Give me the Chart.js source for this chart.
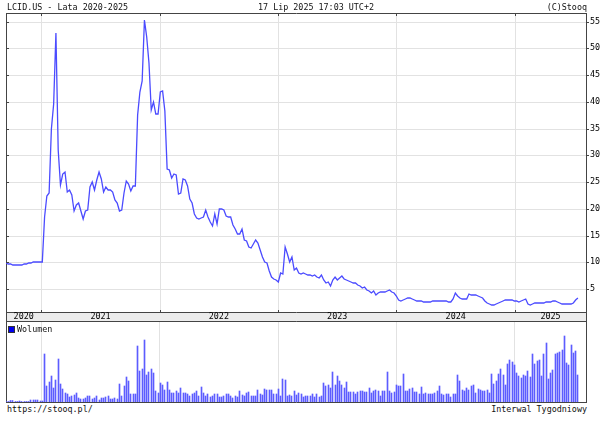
<!DOCTYPE html>
<html>
<head>
<meta charset="utf-8">
<script src="https://cdn.jsdelivr.net/npm/chart.js@4.4.1/dist/chart.umd.min.js"></script>
<style>
  body { margin: 0; background: #fff; }
  #wrap { position: relative; width: 605px; height: 425px; font-family: "DejaVu Sans Mono", monospace; font-size: 8.4px; color: #111; }
  #wrap canvas { position: absolute; left: 0; }
  .t { position: absolute; white-space: pre; line-height: 10px; }
  .sq { display: inline-block; width: 5px; height: 5px; background: #0000ee; border: 1px solid #333; margin-right: 2px; vertical-align: -1px; }
</style>
</head>
<body>
<div id="wrap">
  <canvas id="price" width="605" height="322" style="top:0"></canvas>
  <canvas id="vol" width="605" height="81" style="top:322px"></canvas>
  <div class="t" style="left:7px;top:2px">LCID.US - Lata 2020-2025</div>
  <div class="t" style="left:258px;top:2px">17 Lip 2025 17:03 UTC+2</div>
  <div class="t" style="right:18px;top:2px">(C)Stooq</div>
  <div class="t" style="left:8px;top:324px"><span class="sq"></span>Wolumen</div>
  <div class="t" style="left:7px;top:404px">https://stooq.pl/</div>
  <div class="t" style="right:18px;top:404px">Interwal Tygodniowy</div>
</div>
<script>
// weekly data, first week starts 2020-09-14
var firstWeek = Date.UTC(2020, 8, 14);
var xMin = firstWeek, xMax = Date.UTC(2025, 7, 8);
var yearLabels = ['2020', '2021', '2022', '2023', '2024', '2025'];
var priceTicks = [5, 10, 15, 20, 25, 30, 35, 40, 45, 50, 55];

var close = [
  9.8, 9.7, 9.6, 9.5, 9.5, 9.4, 9.5, 9.5, 9.6, 9.7,
  9.8, 9.9, 10.0, 10.0, 10.0, 10.0, 10.0, 18.5, 22.3, 23.0,
  35.0, 39.5, 52.9, 31.0, 24.4, 26.5, 26.9, 23.2, 23.5, 22.5,
  19.6, 20.7, 21.1, 19.5, 18.1, 19.6, 19.8, 24.1, 25.0, 23.5,
  25.3, 26.9, 25.6, 23.2, 24.1, 23.6, 23.5, 23.2, 21.6, 21.1,
  19.5, 19.8, 22.9, 25.2, 24.6, 23.4, 24.2, 24.2, 37.5, 41.9,
  43.8, 55.3, 52.2, 47.2, 38.5, 39.9, 37.7, 37.8, 41.9, 42.0,
  38.2, 27.5, 27.3, 25.8, 26.5, 26.3, 22.7, 22.9, 25.6, 25.3,
  24.3, 21.8, 21.0, 19.1, 18.2, 18.1, 18.3, 18.5, 19.8, 18.5,
  17.6, 16.8, 19.1, 17.1, 20.0, 19.9, 19.8, 18.7, 18.5, 18.4,
  17.0, 16.3, 15.3, 15.2, 16.2, 14.2, 13.9, 12.8, 12.6, 13.5,
  14.2, 13.6, 12.3, 11.0, 10.1, 9.8, 8.3, 7.3, 6.8, 6.7,
  6.4, 7.9, 7.8, 12.8, 11.5, 10.1, 10.9, 8.5, 8.9, 7.9,
  7.8, 8.0, 7.8, 7.7, 7.6, 7.5, 7.7, 7.3, 7.0, 7.6,
  6.6, 6.2, 6.4, 5.6, 6.7, 7.3, 6.7, 7.0, 7.4, 6.8,
  6.6, 6.5, 6.4, 6.1, 6.2, 5.7, 5.6, 5.1, 5.4, 4.9,
  4.6, 4.3, 4.6, 3.9, 4.3, 4.5, 4.4, 4.5, 4.7, 4.8,
  4.4, 4.3, 3.6, 3.0, 2.8, 2.9, 3.1, 3.3, 3.4, 3.1,
  2.9, 2.8, 2.8, 2.7, 2.6, 2.6, 2.5, 2.6, 2.75, 2.75,
  2.8, 2.75, 2.8, 2.75, 2.7, 2.6, 2.5, 3.2, 4.2, 3.7,
  3.25, 3.1, 3.1, 3.2, 4.1, 3.8, 3.9, 3.8, 3.6, 3.5,
  3.3, 2.7, 2.4, 2.2, 2.1, 2.1, 2.2, 2.4, 2.55, 2.75,
  3.0, 3.0, 3.0, 3.0, 2.8, 2.7, 2.6, 2.7, 2.9, 3.1,
  2.2, 2.1, 2.2, 2.3, 2.3, 2.4, 2.45, 2.45, 2.5, 2.5,
  2.6, 2.7, 2.75, 2.6, 2.3, 2.2, 2.2, 2.2, 2.2, 2.2,
  2.3, 2.9, 3.25
];

// weekly volume, millions of shares
var volume = [
  5, 5, 15, 15, 5, 5, 10, 5, 5, 5, 5, 20, 20, 20, 20, 10, 10,
  480, 160, 200, 260, 140, 220, 430, 180, 130, 90,
  80, 50, 60, 70, 90, 40, 30, 30, 40, 60,
  60, 30, 40, 60, 20, 40, 40, 50, 60, 30,
  30, 40, 30, 180, 60, 160, 250, 210, 80, 80,
  80, 560, 310, 330, 620, 270, 300, 330, 290, 110,
  90, 190, 170, 120, 200, 120, 90, 90, 110, 90,
  140, 90, 90, 80, 60, 80, 90, 110, 60, 150,
  90, 60, 80, 50, 60, 80, 80, 50, 50, 60,
  80, 80, 60, 40, 60, 50, 110, 70, 60, 90,
  100, 60, 60, 60, 120, 80, 70, 130, 120, 120,
  120, 80, 80, 130, 60, 230, 220, 60, 70, 60,
  110, 70, 90,
  80, 50, 60, 60, 60, 80, 50, 80, 50, 60,
  190, 160, 170, 140, 300, 170, 260, 210, 170, 140,
  200, 100, 100, 100, 80, 100, 110, 110, 100, 100,
  140, 90, 110, 120, 110, 60, 110, 110, 300, 110,
  90, 100, 170, 160, 160, 280, 110, 110, 130, 140,
  100, 100, 80, 150, 80, 90, 80, 80, 80, 90,
  110, 160, 80, 70, 80, 80, 50, 80, 80, 270,
  210, 120, 110, 140, 120, 160, 170, 90, 130, 120,
  110, 110, 120, 90, 280, 180, 210, 280, 330, 270,
  170, 380, 420, 400, 370, 290, 260, 240, 270, 260,
  310, 250, 480, 380, 410, 420, 260, 480, 590, 230,
  290, 320, 480, 490, 500, 520, 660, 390, 370, 570,
  490, 510, 270
];

var WEEK = 7 * 24 * 3600 * 1000;
var FONT = { family: 'DejaVu Sans Mono', size: 8.4 };
var DARK = '#444';
var GRID = '#e2e2e2';

var yearStarts = [2021, 2022, 2023, 2024, 2025].map(function (y) { return Date.UTC(y, 0, 1); });
var bounds = [xMin].concat(yearStarts, [xMax]);
var labelPos = yearLabels.map(function (_, i) { return (bounds[i] + bounds[i + 1]) / 2; });

var pricePts = close.map(function (v, i) { return { x: firstWeek + i * WEEK, y: v }; });
var volPts = volume.map(function (v, i) { return { x: firstWeek + i * WEEK, y: v }; });

function setTicks(arr) { return function (s) { s.ticks = arr.map(function (v) { return { value: v }; }); }; }

var frameTicks = {
  id: 'frameTicks',
  beforeDraw: function (chart) {
    var x = chart.scales.x, ctx = chart.ctx;
    ctx.save();
    ctx.fillStyle = '#ececec';
    ctx.fillRect(x.left, x.top, x.width, x.height);
    ctx.restore();
  },
  afterDraw: function (chart) {
    var ctx = chart.ctx, a = chart.chartArea, xg = chart.scales.xg, y = chart.scales.y;
    ctx.save();
    ctx.strokeStyle = DARK;
    ctx.lineWidth = 1;
    ctx.beginPath();
    yearStarts.forEach(function (v) {
      var px = Math.round(xg.getPixelForValue(v)) + 0.5;
      ctx.moveTo(px, a.top); ctx.lineTo(px, a.top + 3);
      ctx.moveTo(px, a.bottom); ctx.lineTo(px, a.bottom - 2);
    });
    priceTicks.forEach(function (v) {
      var py = Math.round(y.getPixelForValue(v)) + 0.5;
      ctx.moveTo(a.left, py); ctx.lineTo(a.left + 3, py);
    });
    ctx.moveTo(a.left, chart.height - 0.5); ctx.lineTo(a.right + 0.5, chart.height - 0.5);
    ctx.moveTo(a.left + 0.5, a.bottom); ctx.lineTo(a.left + 0.5, chart.height);
    ctx.moveTo(a.right + 0.5, a.bottom); ctx.lineTo(a.right + 0.5, chart.height);
    ctx.stroke();
    ctx.restore();
  }
};

// snap the thin volume bars onto whole pixels so they stay crisp
var snapBars = {
  id: 'snapBars',
  beforeDatasetsDraw: function (chart) {
    chart.getDatasetMeta(0).data.forEach(function (el) {
      el.x = Math.floor(el.x) + 0.5;
    });
  }
};

new Chart(document.getElementById('price').getContext('2d'), {
  type: 'line',
  data: {
    datasets: [{
      data: pricePts,
      borderColor: '#4b4bff',
      borderWidth: 1.3,
      pointRadius: 0,
      tension: 0
    }]
  },
  plugins: [frameTicks],
  options: {
    responsive: false,
    animation: false,
    events: [],
    layout: { padding: { left: 6, top: 13, right: 0, bottom: 0 } },
    plugins: { legend: { display: false }, tooltip: { enabled: false } },
    scales: {
      x: {
        type: 'linear', min: xMin, max: xMax, position: 'bottom',
        afterBuildTicks: setTicks(labelPos),
        afterFit: function (s) { s.height = 10; },
        grid: { display: false, drawTicks: false },
        border: { display: true, color: DARK },
        ticks: {
          autoSkip: false, maxRotation: 0, padding: 0, color: '#000', font: FONT,
          callback: function (v, i) { return yearLabels[i]; }
        }
      },
      xg: {
        type: 'linear', min: xMin, max: xMax, position: 'top', alignToPixels: true,
        afterBuildTicks: setTicks(yearStarts),
        afterFit: function (s) { s.height = 0; },
        ticks: { display: false },
        grid: { color: GRID, drawTicks: false },
        border: { display: true, color: DARK }
      },
      y: {
        position: 'right', min: 0.7, max: 56.6, alignToPixels: true,
        afterBuildTicks: setTicks(priceTicks),
        afterFit: function (s) { s.width = 19; },
        grid: { color: GRID, tickColor: DARK, tickLength: 3 },
        border: { color: DARK },
        ticks: { padding: 1, color: '#000', font: FONT }
      },
      yl: {
        position: 'left', min: 0.7, max: 56.6,
        afterFit: function (s) { s.width = 0; },
        ticks: { display: false },
        grid: { display: false },
        border: { display: true, color: DARK }
      }
    }
  }
});

new Chart(document.getElementById('vol').getContext('2d'), {
  type: 'bar',
  data: {
    datasets: [{
      data: volPts,
      backgroundColor: '#5c5cff',
      barThickness: 1,
      borderWidth: 0
    }]
  },
  plugins: [snapBars],
  options: {
    responsive: false,
    animation: false,
    events: [],
    layout: { padding: { left: 6, top: 0, right: 0, bottom: 0 } },
    plugins: { legend: { display: false }, tooltip: { enabled: false } },
    scales: {
      x: {
        type: 'linear', min: xMin, max: xMax, offset: false,
        afterBuildTicks: setTicks(yearStarts),
        afterFit: function (s) { s.height = 1; },
        ticks: { display: false },
        grid: { color: GRID, drawTicks: false, offset: false },
        border: { display: true, color: DARK }
      },
      y: {
        position: 'right', min: 0, max: 800,
        afterFit: function (s) { s.width = 19; },
        ticks: { display: false },
        grid: { display: false },
        border: { display: true, color: DARK }
      },
      yl: {
        position: 'left', min: 0, max: 800,
        afterFit: function (s) { s.width = 0; },
        ticks: { display: false },
        grid: { display: false },
        border: { display: true, color: DARK }
      }
    }
  }
});
</script>
</body>
</html>
